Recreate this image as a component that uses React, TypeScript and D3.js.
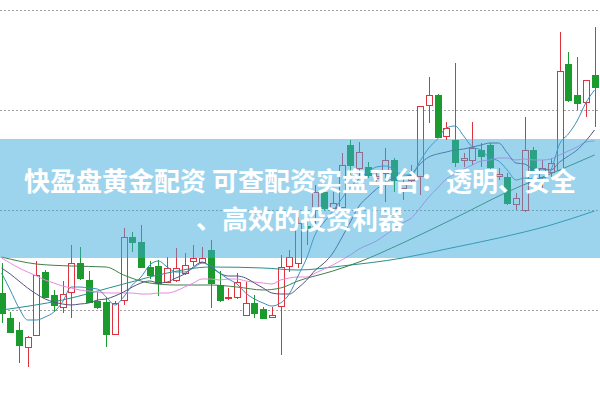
import React from 'react';
import * as d3 from 'd3';

const W = 600;
const H = 399;

// candle data (price units)
const opens = [101.7,99.2,98.0,96.3,97.5,103.8,101.5,100.3,101.8,104.7,103.0,100.9,100.8,97.6,101.0,107.3,106.8,104.3,104.4,102.8,103.0,103.7,104.9,104.8,106.0,102.5,101.2,101.3,99.5,100.7,100.1,99.3,100.4,104.4,104.7,108.4,110.3,111.8,110.2,110.3,116.5,114.2,114.3,113.2,113.7,115.0,112.2,113.0,113.4,120.5,121.5,117.4,117.0,115.0,115.0,116.0,116.5,113.4,113.3,110.6,110.0,116.0,113.3,113.8,114.0,124.6,121.5,120.8,123.5];
const closes = [99.7,97.8,96.5,97.3,103.5,101.3,100.5,101.6,104.7,103.2,100.8,100.3,97.6,100.7,107.3,106.8,104.3,103.5,102.7,104.2,104.2,104.5,105.2,105.2,102.7,101.0,101.3,102.8,100.7,99.7,99.2,99.5,104.3,105.3,108.7,108.1,111.8,110.2,110.7,114.5,114.5,115.8,113.5,113.4,115.0,113.0,112.6,113.5,120.4,121.5,117.3,118.2,114.8,115.2,116.2,115.4,114.3,113.6,110.7,111.2,116.0,114.0,114.2,114.7,123.9,121.0,120.7,123.0,122.3];
const highs = [104.7,99.8,98.8,97.4,104.9,104.0,102.0,102.9,106.5,106.3,103.9,101.8,101.3,100.9,108.2,107.8,108.5,104.9,105.0,105.3,106.2,105.7,106.5,106.3,107.0,103.9,102.2,103.7,102.8,101.5,100.3,100.3,105.5,106.0,109.3,109.0,112.5,112.2,111.8,115.7,117.0,116.8,114.8,113.8,116.2,115.2,113.3,114.5,120.4,123.3,121.6,118.8,124.7,115.7,118.8,116.7,116.7,114.2,113.7,111.7,119.3,116.3,115.0,115.2,127.8,125.8,125.3,123.0,128.3];
const lows = [98.7,97.7,94.7,94.3,97.4,101.2,99.8,99.7,99.2,103.0,100.7,100.1,96.3,97.5,100.5,105.8,104.2,103.1,101.4,102.7,102.8,103.5,104.4,104.7,100.2,100.8,101.0,101.1,99.4,99.2,99.1,99.2,95.5,103.8,104.2,106.5,108.0,110.0,109.8,110.2,113.5,113.2,113.2,112.8,110.8,111.8,111.0,112.5,111.5,118.7,117.2,117.0,114.3,114.3,114.5,114.3,114.0,113.0,110.5,110.0,109.8,113.8,112.0,113.2,113.5,120.8,120.0,119.3,118.3];

// moving averages
const ma5 = [103.7,102.0,100.2,99.0,99.0,99.3,99.8,100.8,102.3,102.3,102.2,102.1,101.3,100.5,101.3,102.5,103.3,104.5,104.9,104.3,103.8,103.8,104.2,104.7,104.4,103.7,103.1,102.6,101.7,101.1,100.7,100.4,100.7,101.6,103.4,105.2,107.6,108.8,109.9,111.1,112.3,113.1,113.8,114.3,114.4,114.1,113.5,113.5,114.9,116.2,117.1,118.2,118.4,117.4,116.3,116.0,115.2,114.9,114.0,113.0,113.2,113.1,113.2,114.0,116.6,117.6,118.9,120.7,122.0];
const ma10 = [104.2,103.6,102.9,102.2,101.6,101.1,100.8,100.6,100.5,100.6,100.7,101.0,101.1,101.4,101.8,102.3,102.7,102.9,102.7,102.8,103.2,103.6,104.3,104.8,104.3,103.7,103.4,103.4,103.2,102.7,102.2,101.7,101.6,101.6,102.2,103.0,104.0,104.7,105.7,107.2,108.8,110.4,111.3,112.1,112.7,113.2,113.3,113.6,114.6,115.3,115.6,115.8,116.0,116.1,116.3,116.5,116.7,116.7,115.7,114.7,114.6,114.1,114.1,114.0,114.8,115.4,116.0,116.9,118.0];
const ma20 = [105.2,104.7,104.2,103.8,103.4,103.0,102.7,102.4,102.2,102.0,101.9,101.8,101.7,101.7,101.7,101.7,101.6,101.6,101.7,101.7,101.9,102.3,102.7,103.1,103.1,103.0,103.1,103.1,102.9,102.8,102.7,102.6,103.0,103.2,103.3,103.3,103.7,104.1,104.5,105.0,105.5,106.1,106.5,106.9,107.5,108.1,108.7,109.2,110.2,111.3,112.2,113.1,113.6,114.1,114.5,114.9,115.0,115.2,115.2,115.0,115.1,115.0,115.0,115.1,115.5,115.9,116.3,116.8,116.9];
const ma60Idx = [0,4,8,12,14,17,20,24,27,30,32,34,38,41,46,52,58,64,68];
const ma60Val = [105.3,104.6,104.4,104.3,103.5,102.7,102.5,102.5,102.3,102.0,102.2,102.9,103.9,104.8,106.7,109.2,111.8,114.0,115.5];
const ma120Idx = [0,7,14,19,24,30,34,39,46,51,57,63,68];
const ma120Val = [100.0,101.0,102.6,103.7,104.3,104.2,104.0,104.4,105.2,106.1,107.2,108.5,109.9];

const gridTicks = [100, 110, 120, 130];
const titleLines = ['快盈盘黄金配资 可查配资实盘平台：透明、安全', '、高效的投资利器'];

const RED = '#e0323c';
const GREEN = '#1b9a2e';

export default function App() {
  const x = d3.scaleLinear().domain([0, opens.length - 1]).range([1.5, 594.5]);
  const y = d3.scaleLinear().domain([91.1, 131]).range([H, 0]);
  const bw = 6;

  const lineArr = d3
    .line<number>()
    .x((_, i) => x(i))
    .y((d) => y(d))
    .curve(d3.curveMonotoneX);
  const linePairs = d3
    .line<[number, number]>()
    .x((d) => x(d[0]))
    .y((d) => y(d[1]))
    .curve(d3.curveMonotoneX);

  const ma60 = ma60Idx.map((d, i) => [d, ma60Val[i]] as [number, number]);
  const ma120 = ma120Idx.map((d, i) => [d, ma120Val[i]] as [number, number]);

  return (
    <svg
      width={W}
      height={H}
      style={{ position: 'fixed', left: 0, top: 0, background: '#fff' }}
    >
      <rect x={0} y={0} width={W} height={H} fill="#fff" />
      {gridTicks.map((t) => (
        <line
          key={t}
          x1={0}
          x2={W}
          y1={Math.round(y(t)) + 0.5}
          y2={Math.round(y(t)) + 0.5}
          stroke="#a0a0a0"
          strokeWidth={1}
          strokeDasharray="2,2"
        />
      ))}
      {opens.map((o, i) => {
        const c = closes[i];
        const up = c >= o;
        const col = up ? RED : GREEN;
        const cx = Math.round(x(i)) + 0.5;
        const top = Math.round(y(Math.max(o, c))) + 0.5;
        const bot = Math.round(y(Math.min(o, c))) + 0.5;
        const h = Math.max(1, bot - top);
        return (
          <g key={i}>
            <line x1={cx} x2={cx} y1={y(highs[i])} y2={top} stroke={col} />
            <line x1={cx} x2={cx} y1={top + h} y2={y(lows[i])} stroke={col} />
            <rect
              x={cx - bw / 2}
              y={top}
              width={bw}
              height={h}
              fill={up ? '#fff' : col}
              stroke={col}
              strokeWidth={1}
            />
          </g>
        );
      })}
      <path d={linePairs(ma120) || ''} fill="none" stroke="#2a8e8a" strokeWidth={1} />
      <path d={linePairs(ma60) || ''} fill="none" stroke="#3f7f4b" strokeWidth={1} />
      <path d={lineArr(ma20) || ''} fill="none" stroke="#e58ae0" strokeWidth={1} />
      <path d={lineArr(ma10) || ''} fill="none" stroke="#55517f" strokeWidth={1} />
      <path d={lineArr(ma5) || ''} fill="none" stroke="#3a8db8" strokeWidth={1} />
      <rect x={0} y={139} width={W} height={119} fill="rgb(59,170,220)" fillOpacity={0.5} />
      {titleLines.map((t, i) => (
        <text
          key={i}
          x={300}
          y={190.5 + i * 38}
          textAnchor="middle"
          fill="#fff"
          fontSize={26}
          fontWeight="bold"
          fontFamily="'Noto Sans CJK SC', 'Noto Sans', sans-serif"
        >
          {t}
        </text>
      ))}
    </svg>
  );
}
